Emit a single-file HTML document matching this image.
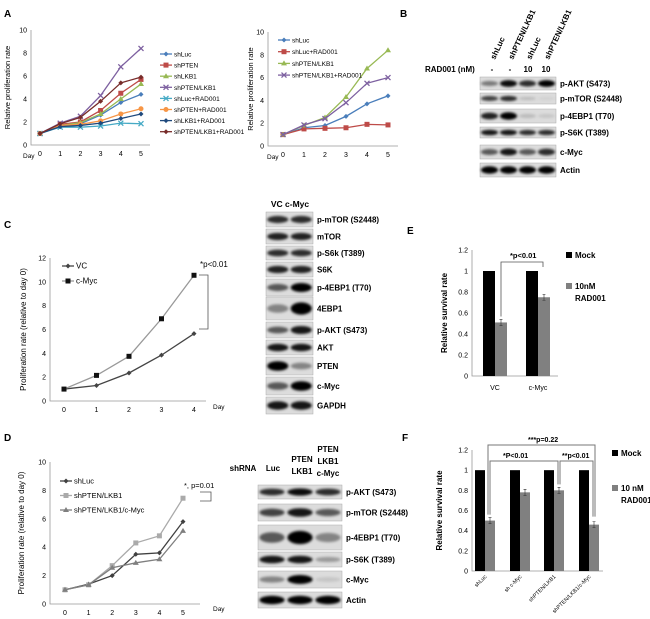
<!DOCTYPE html>
<html><head><meta charset="utf-8">
<style>
html,body{margin:0;padding:0;background:#fff;}
svg{display:block;font-family:"Liberation Sans",sans-serif;}
</style></head>
<body>
<svg id="fig" width="650" height="619" viewBox="0 0 650 619" xmlns="http://www.w3.org/2000/svg">
<defs><filter id="blur" x="-20%" y="-50%" width="140%" height="200%"><feGaussianBlur stdDeviation="1.2"/></filter></defs>
</svg>
<script>
// ---------- DATA ----------
const aDays=[0,1,2,3,4,5];
const aShLuc=[1,1.6,1.85,2.6,3.7,4.4];
const aShPTEN=[1,1.8,2.0,3.0,4.5,5.7];
const aShLKB1=[1,1.7,1.95,2.7,4.0,5.3];
const aShPL=[1,1.9,2.5,4.3,6.8,8.4];
const aShLucRad=[1,1.55,1.55,1.65,1.9,1.85];
const aShPTENRad=[1,1.7,1.8,2.1,2.7,3.15];
const aShLKB1Rad=[1,1.6,1.7,1.9,2.3,2.7];
const aShPLRad=[1,1.85,2.4,3.8,5.4,5.9];
const a2ShLuc=[1,1.6,1.8,2.6,3.7,4.4];
const a2ShLucRad=[1,1.5,1.55,1.6,1.9,1.85];
const a2ShPL=[1,1.8,2.5,4.3,6.8,8.4];
const a2ShPLRad=[1,1.85,2.4,3.8,5.5,6.0];
const aTicks=[0,2,4,6,8,10];
const cDays=[0,1,2,3,4];
const cVC=[1,1.3,2.35,3.85,5.65];
const cMyc=[1,2.15,3.75,6.9,10.55];
const cTicks=[0,2,4,6,8,10,12];
const dDays=[0,1,2,3,4,5];
const dShLuc=[1,1.4,2.0,3.5,3.6,5.8];
const dShPL=[1,1.35,2.7,4.3,4.8,7.45];
const dShPLMyc=[1,1.35,2.55,2.9,3.15,5.15];
const dTicks=[0,2,4,6,8,10];
const eCats=["VC","c-Myc"];
const eMock=[1,1];
const eRad=[0.51,0.75];
const fCats=["shLuc","sh c-Myc","shPTEN/LKB1","shPTEN/LKB1/c-Myc"];
const fMock=[1,1,1,1];
const fRad=[0.5,0.78,0.8,0.46];
const barTicks=[0,0.2,0.4,0.6,0.8,1,1.2];

const NS="http://www.w3.org/2000/svg";
const svg=document.getElementById('fig');
function mk(tag,attrs,parent){const e=document.createElementNS(NS,tag);for(const k in attrs)e.setAttribute(k,attrs[k]);(parent||svg).appendChild(e);return e;}
function txt(x,y,s,size,parent,extra){const t=mk('text',Object.assign({x:x,y:y,'font-size':size,fill:'#000'},extra||{}),parent);t.textContent=s;return t;}

function label(x,y,s){const t=txt(x,y,s,10,svg,{'font-weight':'bold'});

}
label(4,17,'A');label(400,17,'B');label(4,228,'C');label(4,441,'D');label(407,234,'E');label(402,441,'F');

function marker(g,x,y,type,color){
 let m;
 if(type==='sq') m=mk('rect',{x:x-2.5,y:y-2.5,width:5,height:5,fill:color},g);
 else if(type==='tri') m=mk('polygon',{points:`${x},${y-3} ${x-3},${y+2} ${x+3},${y+2}`,fill:color},g);
 else if(type==='x') m=mk('path',{d:`M${x-2.5},${y-2.5}L${x+2.5},${y+2.5}M${x-2.5},${y+2.5}L${x+2.5},${y-2.5}`,stroke:color,'stroke-width':1.3},g);
 else if(type==='dia') m=mk('polygon',{points:`${x},${y-2.5} ${x+2.5},${y} ${x},${y+2.5} ${x-2.5},${y}`,fill:color},g);
 else m=mk('circle',{cx:x,cy:y,r:2.5,fill:color},g);
 return m;
}

function lineChart(cfg){
 const g=mk('g',{});
 
 
 const n=cfg.days.length;
 const sx=i=>cfg.x0+(cfg.x1-cfg.x0)*i/(n-1);
 const sy=v=>cfg.yB-(cfg.yB-cfg.yT)*v/cfg.ymax;
 const ax=mk('path',{d:`M${cfg.ax},${cfg.yT}V${cfg.yB}H${cfg.axEnd}`,stroke:'#999','stroke-width':0.8,fill:'none'},g);
 
 
 cfg.ticks.forEach(v=>{const t=txt(cfg.ax-4,sy(v)+2.5,String(v),7,g,{'text-anchor':'end'});
  
  });
 cfg.days.forEach((d,i)=>{const t=txt(sx(i),cfg.yB+11,String(d),7,g,{'text-anchor':'middle'});
  
  });
 const yt=txt(0,0,cfg.ytitle,cfg.ytSize||7.5,g,{'text-anchor':'middle',transform:`translate(${cfg.ytx},${(cfg.yT+cfg.yB)/2}) rotate(-90)`});
 
 
 const dl=txt(cfg.dayX,cfg.dayY,'Day',6.5,g);
 
 
 cfg.series.forEach((s,k)=>{
  const pts=s.vals.map((v,i)=>`${sx(i)},${sy(v)}`).join(' ');
  const pl=mk('polyline',{points:pts,fill:'none',stroke:s.color,'stroke-width':1.3},g);
  
  
  s.vals.forEach((v,i)=>{const m=marker(g,sx(i),sy(v),s.mk,s.mc||s.color);
   
   });
  const ly=cfg.legY+k*cfg.legDy;
  const ll=mk('line',{x1:cfg.legX,y1:ly,x2:cfg.legX+12,y2:ly,stroke:s.color,'stroke-width':1.3},g);
  
  
  marker(g,cfg.legX+6,ly,s.mk,s.mc||s.color);
  const lt=txt(cfg.legX+14,ly+2.5,s.name,cfg.legSize||6.5,g);
  
  
 });
 return {g,sx,sy};
}

lineChart({name:'chart-a-left',days:aDays,x0:40,x1:141,ax:31,axEnd:150,yB:145,yT:30,ymax:10,ticks:aTicks,
 ytitle:'Relative proliferation rate',ytx:10,dayX:23,dayY:158,legX:160,legY:54,legDy:11.1,
 series:[{key:'shluc',vals:aShLuc,color:'#4a7ebb',mk:'dia',name:'shLuc'},
 {key:'shpten',vals:aShPTEN,color:'#be4b48',mk:'sq',name:'shPTEN'},
 {key:'shlkb1',vals:aShLKB1,color:'#98b954',mk:'tri',name:'shLKB1'},
 {key:'shpten-lkb1',vals:aShPL,color:'#7d60a0',mk:'x',name:'shPTEN/LKB1'},
 {key:'shluc-rad',vals:aShLucRad,color:'#46aac5',mk:'x',name:'shLuc+RAD001'},
 {key:'shpten-rad',vals:aShPTENRad,color:'#f79646',mk:'c',name:'shPTEN+RAD001'},
 {key:'shlkb1-rad',vals:aShLKB1Rad,color:'#1f497d',mk:'dia',name:'shLKB1+RAD001'},
 {key:'shpten-lkb1-rad',vals:aShPLRad,color:'#772c2a',mk:'dia',name:'shPTEN/LKB1+RAD001'}]});

lineChart({name:'chart-a-right',days:aDays,x0:283,x1:388,ax:268,axEnd:398,yB:146,yT:32,ymax:10,ticks:aTicks,
 ytitle:'Relative proliferation rate',ytx:253,dayX:267,dayY:159,legX:278,legY:40,legDy:11.7,
 series:[{key:'shluc',vals:a2ShLuc,color:'#4a7ebb',mk:'dia',name:'shLuc'},
 {key:'shluc-rad',vals:a2ShLucRad,color:'#be4b48',mk:'sq',name:'shLuc+RAD001'},
 {key:'shpten-lkb1',vals:a2ShPL,color:'#98b954',mk:'tri',name:'shPTEN/LKB1'},
 {key:'shpten-lkb1-rad',vals:a2ShPLRad,color:'#7d60a0',mk:'x',name:'shPTEN/LKB1+RAD001'}]});

lineChart({name:'chart-c',days:cDays,x0:64,x1:194,ax:50,axEnd:206,yB:401,yT:258,ymax:12,ticks:cTicks,
 ytitle:'Proliferation rate (relative to day 0)',ytx:26,ytSize:8,dayX:213,dayY:409,legX:62,legY:266,legDy:15,legSize:8,
 series:[{key:'vc',vals:cVC,color:'#444',mk:'dia',name:'VC'},
 {key:'c-myc',vals:cMyc,color:'#999',mk:'sq',mc:'#111',name:'c-Myc'}]});
let t=txt(200,267,'*p<0.01',8,svg);


let br=mk('path',{d:'M199,275H208V329H199',fill:'none',stroke:'#555','stroke-width':0.8});



lineChart({name:'chart-d',days:dDays,x0:65,x1:183,ax:50,axEnd:200,yB:604,yT:462,ymax:10,ticks:dTicks,
 ytitle:'Proliferation rate (relative to day 0)',ytx:24,ytSize:8,dayX:213,dayY:611,legX:60,legY:481,legDy:14.5,legSize:7.5,
 series:[{key:'shluc',vals:dShLuc,color:'#404040',mk:'dia',name:'shLuc'},
 {key:'shpten-lkb1',vals:dShPL,color:'#aaaaaa',mk:'sq',name:'shPTEN/LKB1'},
 {key:'shpten-lkb1-myc',vals:dShPLMyc,color:'#7f7f7f',mk:'tri',name:'shPTEN/LKB1/c-Myc'}]});
t=txt(184,488,'*, p=0.01',7.5,svg);


br=mk('path',{d:'M200,492H211V501H200',fill:'none',stroke:'#555','stroke-width':0.8});



// ---------- BLOTS ----------
function blot(x,y,w,h,ints,lab,name,bh){
 const g=mk('g',{});
 
 
 mk('rect',{x:x,y:y,width:w,height:h,fill:'#dcdcdc',stroke:'#aaa','stroke-width':0.5},g);
 const lw=w/ints.length;
 ints.forEach((v,i)=>{
  const e=mk('ellipse',{cx:x+lw*(i+0.5),cy:y+h/2,rx:lw*0.45,ry:(bh||h*0.22)*(0.6+0.6*v),fill:'#000','fill-opacity':Math.min(1,v),filter:'url(#blur)'},g);
  
  
 });
 const l=txt(x+w+4,y+h/2+3,lab,8,g,{'font-weight':'bold'});
 
 
}
// B
[["p-AKT (S473)",77,13,[0.45,0.95,0.8,1]],["p-mTOR (S2448)",93,11,[0.7,0.8,0.15,0.05]],["p-4EBP1 (T70)",109,14,[0.85,1,0.15,0.1]],
 ["p-S6K (T389)",127,11,[0.9,0.9,0.8,0.8]],["c-Myc",145,14,[0.6,0.9,0.6,0.8]],["Actin",163,14,[1,1,1,1]]]
 .forEach(r=>blot(480,r[1],76,r[2],r[3],r[0],'blot-b-row'));
t=txt(425,72,'RAD001 (nM)',8,svg,{'font-weight':'bold'});


[['-',492],['-',510],['10',528],['10',546]].forEach(d=>{const e=txt(d[1],72,d[0],8,svg,{'text-anchor':'middle','font-weight':'bold'});
 
 });
[['shLuc',492],['shPTEN/LKB1',510],['shLuc',528],['shPTEN/LKB1',546]].forEach(d=>{const e=txt(0,0,d[0],8,svg,{'font-weight':'bold',transform:`translate(${d[1]+3},60) rotate(-65)`});
 
 });
// C blot
[["p-mTOR (S2448)",212,15],["mTOR",229,15],["p-S6k (T389)",246,14],["S6K",262,15],["p-4EBP1 (T70)",279,17],["4EBP1",297,23],
 ["p-AKT (S473)",322,16],["AKT",340,15],["PTEN",357,18],["c-Myc",377,18],["GAPDH",397,17]]
 .forEach((r,i)=>{const ints=[[0.8,0.8],[0.85,0.85],[0.8,0.8],[0.85,0.85],[0.6,1],[0.4,1],[0.6,0.9],[0.9,0.9],[1,0.4],[0.6,1],[0.9,0.9]][i];
 blot(266,r[1],47,r[2],ints,r[0],'blot-c-row',r[2]*0.22);});
t=txt(290,207,'VC c-Myc',8.5,svg,{'text-anchor':'middle','font-weight':'bold'});


// D blot
[["p-AKT (S473)",485,14,[0.8,0.95,0.8]],["p-mTOR (S2448)",504,17,[0.7,0.9,0.6]],["p-4EBP1 (T70)",525,25,[0.6,1,0.4]],
 ["p-S6K (T389)",552,15,[0.9,0.9,0.3]],["c-Myc",571,17,[0.4,1,0.1]],["Actin",592,16,[1,1,1]]]
 .forEach(r=>blot(258,r[1],84,r[2],r[3],r[0],'blot-d-row'));
[['shRNA',243,471],['Luc',273,471],['PTEN',302,462],['LKB1',302,474],['PTEN',328,452],['LKB1',328,464],['c-Myc',328,476]].forEach(d=>{
 const e=txt(d[1],d[2],d[0],8,svg,{'text-anchor':'middle','font-weight':'bold'});
 
 });

// ---------- BAR CHARTS ----------
function barChart(cfg){
 const g=mk('g',{});
 
 
 const sy=v=>cfg.yB-(cfg.yB-cfg.yT)*v/1.2;
 const ax=mk('path',{d:`M${cfg.ax},${cfg.yT}V${cfg.yB}H${cfg.axEnd}`,stroke:'#999','stroke-width':0.8,fill:'none'},g);
 
 
 barTicks.forEach(v=>{const tt=txt(cfg.ax-4,sy(v)+2.5,String(v),7,g,{'text-anchor':'end'});
  
  });
 const yt=txt(0,0,'Relative survival rate',8,g,{'text-anchor':'middle','font-weight':'bold',transform:`translate(${cfg.ytx},${(cfg.yT+cfg.yB)/2}) rotate(-90)`});
 
 
 cfg.cats.forEach((c,i)=>{
  const x=cfg.starts[i];
  const b1=mk('rect',{x:x,y:sy(cfg.mock[i]),width:cfg.bw,height:cfg.yB-sy(cfg.mock[i]),fill:'#000'},g);
  
  
  const b2=mk('rect',{x:x+cfg.bw,y:sy(cfg.rad[i]),width:cfg.bw,height:cfg.yB-sy(cfg.rad[i]),fill:'#808080'},g);
  
  
  mk('path',{d:`M${x+cfg.bw*1.5},${sy(cfg.rad[i])-3}v6M${x+cfg.bw*1.5-1.5},${sy(cfg.rad[i])-3}h3M${x+cfg.bw*1.5-1.5},${sy(cfg.rad[i])+3}h3`,stroke:'#333','stroke-width':0.6},g);
  let lt;
  if(cfg.rot) lt=txt(0,0,c,5.5,g,{'text-anchor':'end',transform:`translate(${x+cfg.bw+2},${cfg.yB+6}) rotate(-45)`});
  else lt=txt(x+cfg.bw,cfg.yB+14,c,7,g,{'text-anchor':'middle'});
  
  
 });
 const s1=mk('rect',{x:cfg.legX,y:cfg.legY-6,width:6,height:6,fill:'#000'},g);
 
 
 let l=txt(cfg.legX+9,cfg.legY,'Mock',8,g,{'font-weight':'bold'});
 
 
 const s2=mk('rect',{x:cfg.legX,y:cfg.legY2-6,width:6,height:6,fill:'#808080'},g);
 
 
 l=txt(cfg.legX+9,cfg.legY2,cfg.radLab,8,g,{'font-weight':'bold'});
 
 
 l=txt(cfg.legX+9,cfg.legY2+12,'RAD001',8,g,{'font-weight':'bold'});
 
 
 return sy;
}
const syE=barChart({name:'chart-e',cats:eCats,mock:eMock,rad:eRad,starts:[483,526],bw:12,ax:472,axEnd:558,yB:376,yT:250,ytx:447,
 legX:566,legY:258,legY2:289,radLab:'10nM'});
t=txt(510,258,'*p<0.01',7.5,svg,{'font-weight':'bold'});


br=mk('path',{d:`M501,${syE(0.51)-6}V262H543V267`,fill:'none',stroke:'#555','stroke-width':0.8});



const syF=barChart({name:'chart-f',cats:fCats,mock:fMock,rad:fRad,starts:[475,510,544,579],bw:10,ax:472,axEnd:603,yB:571,yT:450,ytx:442,rot:true,
 legX:612,legY:456,legY2:491,radLab:'10 nM'});
[['***p=0.22',528,442],['*P<0.01',503,458],['**p<0.01',562,458]].forEach(d=>{const e=txt(d[1],d[2],d[0],7,svg,{'font-weight':'bold'});
 
 });
br=mk('path',{d:`M488,${syF(0.5)-6}V445H595V${syF(0.46)-8}`,fill:'none',stroke:'#777','stroke-width':1});


br=mk('path',{d:`M490,${syF(0.5)-6}V461H558V${syF(0.8)-6}`,fill:'none',stroke:'#777','stroke-width':1});


br=mk('path',{d:`M560,${syF(0.8)-6}V461H593V${syF(0.46)-8}`,fill:'none',stroke:'#777','stroke-width':1});


</script>
</body></html>
